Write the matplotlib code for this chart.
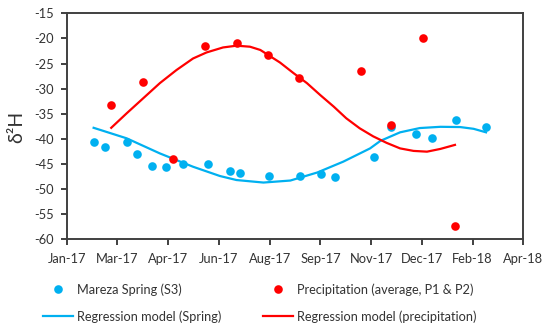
import numpy as np
import matplotlib
matplotlib.use("Agg")
import matplotlib.pyplot as plt
from matplotlib.lines import Line2D
from datetime import date, timedelta

plt.rcParams['font.family'] = ['Lato', 'DejaVu Sans']
plt.rcParams['axes.unicode_minus'] = False

# ---- data ----
spring_dates = ['2017-02-14', '2017-02-25', '2017-03-18', '2017-03-28', '2017-04-11',
                '2017-04-25', '2017-05-11', '2017-06-04', '2017-06-26', '2017-07-05',
                '2017-08-02', '2017-09-01', '2017-09-22', '2017-10-05', '2017-11-12',
                '2017-11-28', '2017-12-22', '2018-01-07', '2018-01-30', '2018-02-28']
spring_d2h = [-40.6, -41.6, -40.6, -43.0, -45.5, -45.6, -45.0, -45.1, -46.5, -46.8,
              -47.3, -47.3, -46.9, -47.6, -43.7, -37.7, -39.1, -39.8, -36.2, -37.6]

precip_dates = ['2017-03-03', '2017-04-03', '2017-05-02', '2017-06-02', '2017-07-02',
                '2017-08-01', '2017-08-31', '2017-10-30', '2017-11-28', '2017-12-29',
                '2018-01-29']
precip_d2h = [-33.2, -28.7, -44.0, -21.6, -20.9, -23.4, -27.9, -26.5, -37.2, -19.9, -57.4]

# regression model curves (days since 2017-01-01, value)
spring_model_days = [44, 76, 108, 140, 166, 182, 208, 234, 260, 285, 311, 321, 340,
                     359, 379, 398, 411, 423]
spring_model_d2h = [-37.8, -39.9, -42.9, -45.55, -47.4, -48.2, -48.7, -48.3, -46.7,
                    -44.55, -41.9, -40.4, -38.7, -37.85, -37.6, -37.65, -38.0, -38.7]

precip_model_days = [61, 76, 92, 108, 124, 140, 153, 169, 182, 195, 205, 224, 237, 250,
                     263, 276, 288, 301, 314, 327, 340, 353, 366, 379, 393]
precip_model_d2h = [-37.8, -34.9, -31.9, -28.9, -26.3, -24.0, -22.8, -21.8, -21.45,
                    -21.65, -22.3, -24.8, -26.9, -28.9, -31.3, -33.6, -35.9, -37.9,
                    -39.5, -40.8, -41.9, -42.4, -42.55, -42.0, -41.2]

axis_start_day = 18      # 19 Jan 2017
tick_step_days = 49
n_ticks = 10
y_ticks = list(range(-60, -14, 5))

label_spring = 'Mareza Spring (S3)'
label_precip = 'Precipitation (average, P1 & P2)'
label_reg_spring = 'Regression model (Spring)'
label_reg_precip = 'Regression model (precipitation)'

BLUE = '#00B0F0'
RED = '#FF0000'
FRAME = '#404040'
TEXT = '#333333'

origin = np.datetime64('2017-01-01')
def to_days(ds):
    return [(np.datetime64(s) - origin).astype(int) for s in ds]

fig = plt.figure(figsize=(5.5, 3.32), dpi=100)
ax = fig.add_axes([66.7/550, 1-239.3/332, (523.3-66.7)/550, (239.3-13.3)/332])

ax.plot(spring_model_days, spring_model_d2h, color=BLUE, lw=1.6, zorder=2)
ax.plot(precip_model_days, precip_model_d2h, color=RED, lw=1.6, zorder=2)
ax.plot(to_days(spring_dates), spring_d2h, 'o', color=BLUE, ms=6.2, mew=0, zorder=3)
ax.plot(to_days(precip_dates), precip_d2h, 'o', color=RED, ms=6.2, mew=0, zorder=4)

ticks = [axis_start_day + tick_step_days*k for k in range(n_ticks)]
ax.set_xlim(ticks[0], ticks[-1])
ax.set_xticks(ticks)
ax.set_xticklabels([(date(2017, 1, 1) + timedelta(days=int(t))).strftime('%b-%y') for t in ticks])
ax.set_ylim(-60, -15)
ax.set_yticks(y_ticks)
ax.set_yticklabels([str(v) for v in y_ticks])

for s in ax.spines.values():
    s.set_color(FRAME)
    s.set_linewidth(1.4)
ax.tick_params(axis='both', direction='out', length=4, width=1.4, color=FRAME,
               labelsize=9.3, labelcolor=TEXT)
ax.tick_params(axis='y', pad=5)
ax.tick_params(axis='x', pad=6)

fig.text(17/550, 1-127/332, 'δ²H', rotation=90, ha='center', va='center',
         fontsize=14, color=TEXT)

h_sp = Line2D([], [], color=BLUE, marker='o', ls='none', ms=6.2, mew=0)
h_pr = Line2D([], [], color=RED, marker='o', ls='none', ms=6.2, mew=0)
h_rs = Line2D([], [], color=BLUE, lw=1.6)
h_rp = Line2D([], [], color=RED, lw=1.6)

common = dict(frameon=False, fontsize=9.2, handlelength=2.35, handletextpad=0.25,
              labelspacing=1.15, borderpad=0, borderaxespad=0, labelcolor=TEXT)
fig.legend([h_sp, h_rs], [label_spring, label_reg_spring], loc='upper left',
           bbox_to_anchor=(43.3/550, 1-283/332), **common)
fig.legend([h_pr, h_rp], [label_precip, label_reg_precip], loc='upper left',
           bbox_to_anchor=(263.3/550, 1-283/332), **common)

fig.savefig('out.png', dpi=100)
